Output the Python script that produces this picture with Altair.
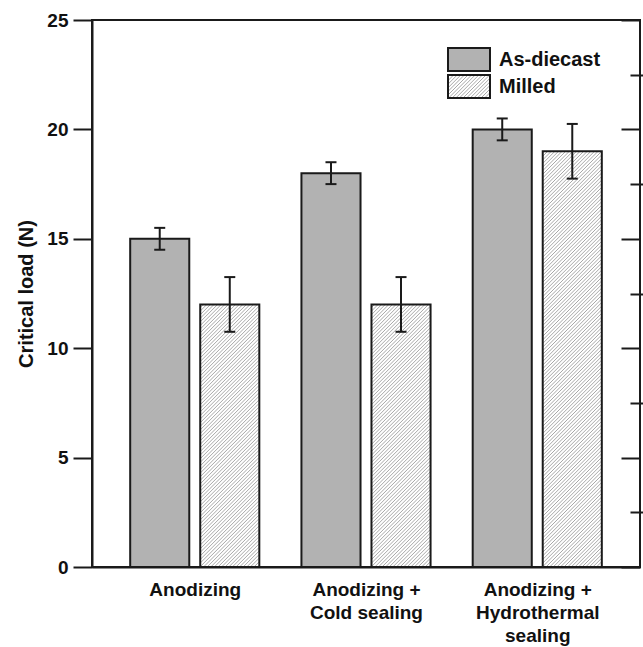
import json
import altair as alt
import pandas as pd

# ---- data -----------------------------------------------------------------
categories = ["Anodizing", "Anodizing +|Cold sealing", "Anodizing +|Hydrothermal|sealing"]
series = ["As-diecast", "Milled"]
as_diecast = [15, 18, 20]
as_diecast_err = [0.5, 0.5, 0.5]
milled = [12, 12, 19]
milled_err = [1.25, 1.25, 1.25]
y_major = [0, 5, 10, 15, 20, 25]
y_minor = [2.5, 7.5, 12.5, 17.5, 22.5]

# ---- layout ---------------------------------------------------------------
W, H = 548, 547
X_DOMAIN = [0.4, 3.6]
Y_DOMAIN = [0, 25]
BAR_W = 0.345          # bar width in x units
HALF_GAP = 0.032       # half of the gap between the two bars of a group
PX_X = W / (X_DOMAIN[1] - X_DOMAIN[0])
PX_Y = H / (Y_DOMAIN[1] - Y_DOMAIN[0])
HATCH_STEP = 3.6       # px between hatch lines (horizontal)

FONT = "Liberation Sans"
INK = "#1a1a1a"
GREY = "#b2b2b2"
HATCH = "#a8a8a8"

rows = []
for i, cat in enumerate(categories):
    pos = i + 1
    for s, vals, errs in ((series[0], as_diecast, as_diecast_err), (series[1], milled, milled_err)):
        if s == series[0]:
            x0, x1 = pos - HALF_GAP - BAR_W, pos - HALF_GAP
        else:
            x0, x1 = pos + HALF_GAP, pos + HALF_GAP + BAR_W
        rows.append(dict(category=cat, series=s, value=vals[i], err=errs[i],
                         lo=vals[i] - errs[i], hi=vals[i] + errs[i],
                         x0=x0, x1=x1, xc=(x0 + x1) / 2, base=0))
bars = pd.DataFrame(rows)
ends = pd.concat([bars.assign(end=bars["lo"]), bars.assign(end=bars["hi"])])


def hatch_segments(w, h, step):
    """'/' segments filling a w x h box, relative to its lower-left corner, y up."""
    segs = []
    t = -w + step / 2
    while t < h:
        xa, xb = max(0.0, -t), min(w, h - t)
        if xb > xa:
            segs.append((xa, xa + t, xb, xb + t))
        t += step
    return segs


hatch_rows = []
for r in bars[bars["series"] == series[1]].itertuples():
    w_px, h_px = (r.x1 - r.x0) * PX_X, r.value * PX_Y
    for xa, ya, xb, yb in hatch_segments(w_px, h_px, HATCH_STEP):
        hatch_rows.append(dict(hx0=r.x0 + xa / PX_X, hy0=ya / PX_Y,
                               hx1=r.x0 + xb / PX_X, hy1=yb / PX_Y))
hatch = pd.DataFrame(hatch_rows)

# legend, in pixels from the plot origin
LEG_X0, LEG_X1, LEG_Y0, LEG_H, LEG_STEP = 356, 398, 28, 23, 27
legend = pd.DataFrame([dict(series=s, lx0=LEG_X0, lx1=LEG_X1,
                            ly0=LEG_Y0 + k * LEG_STEP, ly1=LEG_Y0 + k * LEG_STEP + LEG_H,
                            tx=LEG_X1 + 9, ty=LEG_Y0 + k * LEG_STEP + LEG_H / 2)
                       for k, s in enumerate(series)])
leg_hatch = pd.DataFrame([dict(px0=LEG_X0 + xa, py0=legend.ly1[1] - ya,
                               px1=LEG_X0 + xb, py1=legend.ly1[1] - yb)
                          for xa, ya, xb, yb in hatch_segments(LEG_X1 - LEG_X0, LEG_H, HATCH_STEP)])

# ---- scales / axes --------------------------------------------------------
xs = alt.Scale(domain=X_DOMAIN, nice=False, zero=False)
ys = alt.Scale(domain=Y_DOMAIN, nice=False, zero=False)
label_expr = "split(" + json.dumps(categories) + "[datum.value - 1], '|')"

x_axis = alt.Axis(values=[1, 2, 3], labelExpr=label_expr, ticks=False, tickSize=0,
                  labelPadding=13, labelFont=FONT, labelFontSize=19, labelFontWeight="bold",
                  labelColor="#111", labelLineHeight=23, labelOverlap=False,
                  domainColor=INK, domainWidth=2, grid=False, title=None)
y_axis_major = alt.Axis(values=y_major, tickSize=19, tickWidth=2, tickColor=INK,
                        labelPadding=5, labelFont=FONT, labelFontSize=19, labelFontWeight="bold",
                        labelColor="#111", labelFlush=False, domainColor=INK, domainWidth=2,
                        grid=False, title="Critical load (N)", titleFont=FONT, titleFontSize=20,
                        titleFontWeight="bold", titleColor="#111", titlePadding=10)
y_axis_minor = alt.Axis(values=y_minor, tickSize=10, tickWidth=2, tickColor=INK,
                        labels=False, domain=False, grid=False, title=None)
y_axis_right_major = alt.Axis(orient="right", offset=-19, values=y_major, tickSize=19,
                              tickWidth=2, tickColor=INK, labels=False, domain=False,
                              grid=False, title=None)
y_axis_right_minor = alt.Axis(orient="right", offset=-10, values=y_minor, tickSize=10,
                              tickWidth=2, tickColor=INK, labels=False, domain=False,
                              grid=False, title=None)

colour = alt.Color("series:N", scale=alt.Scale(domain=series, range=[GREY, "white"]), legend=None)

fills = alt.Chart(bars).mark_rect().encode(
    x=alt.X("x0:Q", scale=xs, axis=x_axis), x2="x1:Q",
    y=alt.Y("value:Q", scale=ys, axis=y_axis_major), y2="base:Q",
    fill=colour,
)
hatch_lines = alt.Chart(hatch).mark_rule(color=HATCH, strokeWidth=1).encode(
    x=alt.X("hx0:Q", scale=xs, axis=None), x2="hx1:Q",
    y=alt.Y("hy0:Q", scale=ys, axis=y_axis_minor), y2="hy1:Q",
)
outlines = alt.Chart(bars).mark_rect(fillOpacity=0, stroke=INK, strokeWidth=2).encode(
    x=alt.X("x0:Q", scale=xs, axis=None), x2="x1:Q",
    y=alt.Y("value:Q", scale=ys, axis=y_axis_right_major), y2="base:Q",
)
err_rules = alt.Chart(bars).mark_rule(color=INK, strokeWidth=2).encode(
    x=alt.X("xc:Q", scale=xs, axis=None),
    y=alt.Y("lo:Q", scale=ys, axis=y_axis_right_minor), y2="hi:Q",
)
err_caps = alt.Chart(ends).mark_tick(orient="horizontal", size=11, thickness=2, color=INK,
                                      opacity=1).encode(
    x=alt.X("xc:Q", scale=xs, axis=None),
    y=alt.Y("end:Q", scale=ys, axis=None),
)

leg_fill = alt.Chart(legend).mark_rect().encode(
    x=alt.X("lx0:Q", scale=None, axis=None), x2="lx1:Q",
    y=alt.Y("ly0:Q", scale=None, axis=None), y2="ly1:Q",
    fill=colour,
)
leg_hatch_lines = alt.Chart(leg_hatch).mark_rule(color=HATCH, strokeWidth=1).encode(
    x=alt.X("px0:Q", scale=None, axis=None), x2="px1:Q",
    y=alt.Y("py0:Q", scale=None, axis=None), y2="py1:Q",
)
leg_box = alt.Chart(legend).mark_rect(fillOpacity=0, stroke=INK, strokeWidth=2).encode(
    x=alt.X("lx0:Q", scale=None, axis=None), x2="lx1:Q",
    y=alt.Y("ly0:Q", scale=None, axis=None), y2="ly1:Q",
)
leg_text = alt.Chart(legend).mark_text(align="left", baseline="middle", font=FONT,
                                       fontSize=20, fontWeight="bold", color="#111").encode(
    x=alt.X("tx:Q", scale=None, axis=None),
    y=alt.Y("ty:Q", scale=None, axis=None),
    text="series:N",
)

chart = alt.layer(
    fills, hatch_lines, outlines, err_rules, err_caps,
    leg_fill, leg_hatch_lines, leg_box, leg_text,
).resolve_scale(
    x="independent", y="independent", fill="independent"
).properties(
    width=W, height=H,
    autosize=alt.AutoSizeParams(type="none"),
    padding={"left": 92, "top": 20, "right": 3, "bottom": 80},
    background="white",
).configure_view(
    stroke=INK, strokeWidth=2
)

chart.save("out.html", embed_options={"renderer": "svg", "actions": False})
